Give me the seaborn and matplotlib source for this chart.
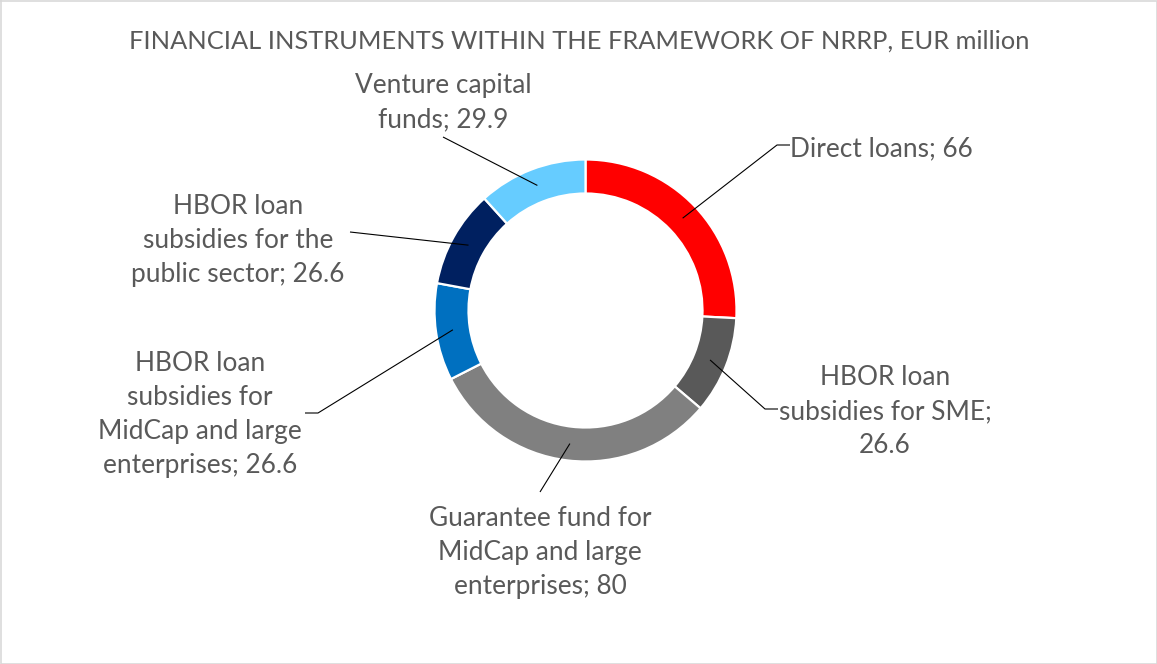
import numpy as np
import matplotlib
matplotlib.use("Agg")
import matplotlib.pyplot as plt
import seaborn as sns

# ---------------- data ----------------
title = "FINANCIAL INSTRUMENTS WITHIN THE FRAMEWORK OF NRRP, EUR million"
categories = [
    "Direct loans",
    "HBOR loan subsidies for SME",
    "Guarantee fund for MidCap and large enterprises",
    "HBOR loan subsidies for MidCap and large enterprises",
    "HBOR loan subsidies for the public sector",
    "Venture capital funds",
]
values = [66, 26.6, 80, 26.6, 26.6, 29.9]
label_texts = [
    "Direct loans; 66",
    "HBOR loan\nsubsidies for SME;\n26.6",
    "Guarantee fund for\nMidCap and large\nenterprises; 80",
    "HBOR loan\nsubsidies for\nMidCap and large\nenterprises; 26.6",
    "HBOR loan\nsubsidies for the\npublic sector; 26.6",
    "Venture capital\nfunds; 29.9",
]
colors = ["#FF0000", "#595959", "#808080", "#0070C0", "#002060", "#66CCFF"]

# ---------------- layout (pixels) ----------------
W, H = 1157, 664
CX, CY, R_OUT, R_IN = 585.5, 310.5, 151.0, 117.0
LINE_GAP = 34.0
# (x, first baseline, ha)
label_pos = [
    (790, 156, "left"),
    (885, 385, "center"),
    (540, 526, "center"),
    (200, 371, "center"),
    (238, 214, "center"),
    (443, 93, "center"),
]
# leader line outer points (label side), list of points from label end toward ring
leader_outer = [
    [(790, 145), (777, 145)],
    [(778, 409), (765, 409)],
    [(540, 492)],
    [(305, 413), (318, 413)],
    [(350, 232)],
    [(443, 137)],
]

sns.set_theme(style="white")
plt.rcParams["font.family"] = ["Lato", "DejaVu Sans"]
TEXT_COLOR = "#595959"

fig = plt.figure(figsize=(W / 100, H / 100), dpi=100)
fig.patch.set_facecolor("white")

# pie axes, square in pixels
pax = fig.add_axes([(CX - R_OUT) / W, (H - CY - R_OUT) / H, 2 * R_OUT / W, 2 * R_OUT / H])
wedges, _ = pax.pie(
    values,
    colors=colors,
    startangle=90,
    counterclock=False,
    radius=1.0,
    wedgeprops=dict(width=(R_OUT - R_IN) / R_OUT, edgecolor="white", linewidth=1.6),
)
pax.set_xlim(-1, 1)
pax.set_ylim(-1, 1)
pax.set_aspect("equal")
pax.axis("off")
for w in wedges:
    w.set_clip_on(False)

# overlay axes in pixel coordinates
ox = fig.add_axes([0, 0, 1, 1], facecolor="none")
ox.set_xlim(0, W)
ox.set_ylim(H, 0)
ox.axis("off")

# border
ox.plot([0.5, W - 0.5, W - 0.5, 0.5, 0.5], [0.5, 0.5, H - 0.5, H - 0.5, 0.5],
        color="#D9D9D9", lw=1.2, clip_on=False)

# leader lines from wedge mid-ring points (computed from the data)
total = float(sum(values))
cum = 0.0
r_mid = (R_OUT + R_IN) / 2
for v, outer in zip(values, leader_outer):
    mid = 90 - (cum + v / 2) / total * 360
    cum += v
    px = CX + r_mid * np.cos(np.radians(mid))
    py = CY - r_mid * np.sin(np.radians(mid))
    pts = outer + [(px, py)]
    ox.plot([p[0] for p in pts], [p[1] for p in pts], color="black", lw=0.8,
            solid_capstyle="butt")

fig.canvas.draw()
renderer = fig.canvas.get_renderer()

def fit_size(s, target_w):
    t = ox.text(0, 0, s, fontsize=10)
    w = t.get_window_extent(renderer).width
    t.remove()
    return 10 * target_w / w

title_size = fit_size(title, 892)
label_size = fit_size("Direct loans; 66", 183)

ox.text(579, 48.5, title, ha="center", va="baseline", fontsize=title_size, color=TEXT_COLOR)

for txt, (x, y0, ha) in zip(label_texts, label_pos):
    for i, line in enumerate(txt.split("\n")):
        ox.text(x, y0 + i * LINE_GAP, line, ha=ha, va="baseline",
                fontsize=label_size, color=TEXT_COLOR)

fig.savefig("out.png", dpi=100, facecolor="white")
